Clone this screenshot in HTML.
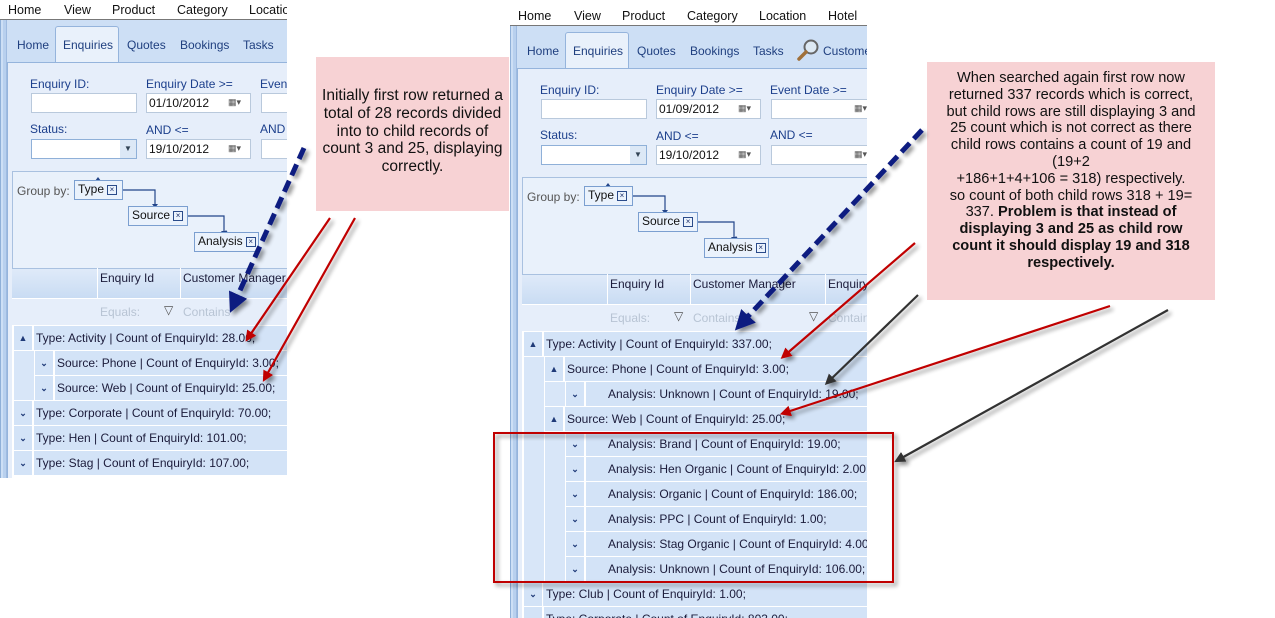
<!DOCTYPE html>
<html><head><meta charset="utf-8">
<style>
*{margin:0;padding:0;box-sizing:border-box}
body{width:1275px;height:618px;background:#fff;position:relative;overflow:hidden;font-family:"Liberation Sans",sans-serif;font-size:12px;color:#1b1b3a}
.p{position:absolute;overflow:hidden}
.a{position:absolute;white-space:nowrap}
.menu{font-size:12.5px;color:#111}
.blue{color:#1c3f8c}
.tab{font-size:12px;color:#1f3f7f}
.inp{position:absolute;height:20px;background:#fff;border:1px solid #b9c9dc}
.cal{position:absolute;right:4px;top:3px;width:18px;height:12px;font-size:9px;color:#555}
.gb{position:absolute;height:20px;background:#eaf2fc;border:1px solid #7b9fd0;padding:1px 3px;font-size:12px;color:#111;white-space:nowrap}
.x{display:inline-block;width:10px;height:10px;border:1px solid #2a4b8a;font-size:8px;line-height:8px;text-align:center;margin-left:3px;vertical-align:1px;color:#1a2f6a}
.row{position:absolute;height:24px;background:#d3e3f7;line-height:24px;color:#1b1b3a;white-space:nowrap}
.btn{position:absolute;height:24px;width:19px;background:#d3e3f7;border-right:1px solid #fff;text-align:center;font-size:9px;color:#1f3a78;font-weight:bold;line-height:24px}
.ind{position:absolute;height:24px;background:#d8e6f8}
.call{position:absolute;background:#f7d2d4;text-align:center;color:#111;white-space:nowrap}
</style></head><body>

<!-- LEFT PANEL -->
<div class="p" style="left:0;top:0;width:287px;height:478px">
  <div class="a menu" style="left:8px;top:3px">Home</div>
  <div class="a menu" style="left:64px;top:3px">View</div>
  <div class="a menu" style="left:112px;top:3px">Product</div>
  <div class="a menu" style="left:177px;top:3px">Category</div>
  <div class="a menu" style="left:249px;top:3px">Location</div>
  <div class="a" style="left:0;top:19px;width:287px;height:1px;background:#777"></div>
  <div class="a" style="left:0;top:20px;width:287px;height:458px;background:#cddff5;border-left:1px solid #8fb0d8"></div>
  <div class="a" style="left:3px;top:20px;width:4px;height:458px;background:#b8d0ee;border-right:1px solid #9fbbe0"></div>
  <div class="a" style="left:55px;top:26px;width:64px;height:37px;background:#e9f1fb;border:1px solid #95b4dc;border-bottom:none;border-radius:3px 3px 0 0"></div>
  <div class="a tab" style="left:17px;top:38px">Home</div>
  <div class="a tab" style="left:63px;top:38px">Enquiries</div>
  <div class="a tab" style="left:127px;top:38px">Quotes</div>
  <div class="a tab" style="left:180px;top:38px">Bookings</div>
  <div class="a tab" style="left:243px;top:38px">Tasks</div>
  <div class="a" style="left:7px;top:62px;width:280px;height:416px;background:#e6eefa;border-left:1px solid #95b4dc;border-top:1px solid #95b4dc"></div>
  <div class="a blue" style="left:30px;top:77px">Enquiry ID:</div>
  <div class="a blue" style="left:146px;top:77px">Enquiry Date &gt;=</div>
  <div class="a blue" style="left:260px;top:77px">Event</div>
  <div class="inp" style="left:31px;top:93px;width:106px"></div>
  <div class="inp" style="left:146px;top:93px;width:105px;padding:2px 2px;font-size:12px;color:#111">01/10/2012<span class="cal">▦▾</span></div>
  <div class="inp" style="left:261px;top:93px;width:40px"></div>
  <div class="a blue" style="left:30px;top:122px">Status:</div>
  <div class="a blue" style="left:146px;top:123px">AND &lt;=</div>
  <div class="a blue" style="left:260px;top:122px">AND</div>
  <div class="inp" style="left:31px;top:139px;width:106px;border-color:#8fb0d8"><span style="position:absolute;right:0;top:0;width:16px;height:18px;background:#dce8f6;font-size:8px;text-align:center;line-height:18px;color:#345">▼</span></div>
  <div class="inp" style="left:146px;top:139px;width:105px;padding:2px 2px;font-size:12px;color:#111">19/10/2012<span class="cal">▦▾</span></div>
  <div class="inp" style="left:261px;top:139px;width:40px"></div>
  <div class="a" style="left:12px;top:171px;width:280px;height:98px;background:#e9f1fb;border:1px solid #a9c1e0"></div>
  <div class="a" style="left:17px;top:184px;color:#555">Group by:</div>
  <svg class="a" style="left:0;top:0" width="287" height="270"><g stroke="#23458a" fill="none" stroke-width="1.2"><path d="M122 190 H155 V204"/><path d="M187 216 H224 V231"/></g><g fill="#23458a"><path d="M152 204 h6 l-3 4z"/><path d="M221 231 h6 l-3 4z"/><path d="M95 181 l3 -4 l3 4z"/><path d="M152 208 l3 -4 l3 4z"/><path d="M223 234 l3 -4 l3 4z"/></g></svg>
  <div class="gb" style="left:74px;top:180px;width:49px">Type<span class="x">×</span></div>
  <div class="gb" style="left:128px;top:206px;width:60px">Source<span class="x">×</span></div>
  <div class="gb" style="left:194px;top:232px;width:65px">Analysis<span class="x">×</span></div>
  <div class="a" style="left:12px;top:268px;width:280px;height:30px;background:linear-gradient(#dfeaf9,#c9dcf3);border-top:1px solid #a9c1e0"></div>
  <div class="a" style="left:97px;top:268px;width:1px;height:57px;background:#fff"></div>
  <div class="a" style="left:180px;top:268px;width:1px;height:57px;background:#fff"></div>
  <div class="a" style="left:100px;top:271px">Enquiry Id</div>
  <div class="a" style="left:183px;top:271px">Customer Manager</div>
  <div class="a" style="left:12px;top:298px;width:280px;height:27px;background:#e6eefa;border-top:1px solid #fff"></div>
  <div class="a" style="left:100px;top:305px;color:#b8c4d4">Equals:</div>
  <div class="a" style="left:164px;top:303px;color:#555">▽</div>
  <div class="a" style="left:183px;top:305px;color:#b8c4d4">Contains</div>
  <div class="a" style="left:12px;top:325px;width:280px;height:153px;background:#fff"></div>
  <div class="btn" style="left:14px;top:326px">▲</div><div class="row" style="left:34px;top:326px;width:260px;padding-left:2px">Type: Activity | Count of EnquiryId: 28.00;</div>
  <div class="ind" style="left:14px;top:351px;width:20px;height:49px"></div>
  <div class="btn" style="left:35px;top:351px">⌄</div><div class="row" style="left:55px;top:351px;width:240px;padding-left:2px">Source: Phone | Count of EnquiryId: 3.00;</div>
  <div class="btn" style="left:35px;top:376px">⌄</div><div class="row" style="left:55px;top:376px;width:240px;padding-left:2px">Source: Web | Count of EnquiryId: 25.00;</div>
  <div class="btn" style="left:14px;top:401px">⌄</div><div class="row" style="left:34px;top:401px;width:260px;padding-left:2px">Type: Corporate | Count of EnquiryId: 70.00;</div>
  <div class="btn" style="left:14px;top:426px">⌄</div><div class="row" style="left:34px;top:426px;width:260px;padding-left:2px">Type: Hen | Count of EnquiryId: 101.00;</div>
  <div class="btn" style="left:14px;top:451px">⌄</div><div class="row" style="left:34px;top:451px;width:260px;padding-left:2px">Type: Stag | Count of EnquiryId: 107.00;</div>
</div>

<!-- RIGHT PANEL -->
<div class="p" style="left:510px;top:6px;width:357px;height:612px">
  <div class="a menu" style="left:8px;top:3px">Home</div>
  <div class="a menu" style="left:64px;top:3px">View</div>
  <div class="a menu" style="left:112px;top:3px">Product</div>
  <div class="a menu" style="left:177px;top:3px">Category</div>
  <div class="a menu" style="left:249px;top:3px">Location</div>
  <div class="a menu" style="left:318px;top:3px">Hotel</div>
  <div class="a" style="left:0;top:19px;width:357px;height:1px;background:#777"></div>
  <div class="a" style="left:0;top:20px;width:357px;height:592px;background:#cddff5;border-left:1px solid #8fb0d8"></div>
  <div class="a" style="left:3px;top:20px;width:4px;height:592px;background:#b8d0ee;border-right:1px solid #9fbbe0"></div>
  <div class="a" style="left:55px;top:26px;width:64px;height:37px;background:#e9f1fb;border:1px solid #95b4dc;border-bottom:none;border-radius:3px 3px 0 0"></div>
  <div class="a tab" style="left:17px;top:38px">Home</div>
  <div class="a tab" style="left:63px;top:38px">Enquiries</div>
  <div class="a tab" style="left:127px;top:38px">Quotes</div>
  <div class="a tab" style="left:180px;top:38px">Bookings</div>
  <div class="a tab" style="left:243px;top:38px">Tasks</div>
  <svg class="a" style="left:286px;top:32px" width="26" height="24"><circle cx="15" cy="9" r="6.5" fill="#dde9f4" stroke="#666" stroke-width="2"/><path d="M10 14 L3 21" stroke="#a0703a" stroke-width="3.5" stroke-linecap="round"/></svg>
  <div class="a tab" style="left:313px;top:38px">Customer</div>
  <div class="a" style="left:7px;top:62px;width:350px;height:550px;background:#e6eefa;border-left:1px solid #95b4dc;border-top:1px solid #95b4dc"></div>
  <div class="a blue" style="left:30px;top:77px">Enquiry ID:</div>
  <div class="a blue" style="left:146px;top:77px">Enquiry Date &gt;=</div>
  <div class="a blue" style="left:260px;top:77px">Event Date &gt;=</div>
  <div class="inp" style="left:31px;top:93px;width:106px"></div>
  <div class="inp" style="left:146px;top:93px;width:105px;padding:2px 2px;font-size:12px;color:#111">01/09/2012<span class="cal">▦▾</span></div>
  <div class="inp" style="left:261px;top:93px;width:100px"><span class="cal" style="right:-2px">▦▾</span></div>
  <div class="a blue" style="left:30px;top:122px">Status:</div>
  <div class="a blue" style="left:146px;top:123px">AND &lt;=</div>
  <div class="a blue" style="left:260px;top:122px">AND &lt;=</div>
  <div class="inp" style="left:31px;top:139px;width:106px;border-color:#8fb0d8"><span style="position:absolute;right:0;top:0;width:16px;height:18px;background:#dce8f6;font-size:8px;text-align:center;line-height:18px;color:#345">▼</span></div>
  <div class="inp" style="left:146px;top:139px;width:105px;padding:2px 2px;font-size:12px;color:#111">19/10/2012<span class="cal">▦▾</span></div>
  <div class="inp" style="left:261px;top:139px;width:100px"><span class="cal" style="right:-2px">▦▾</span></div>
  <div class="a" style="left:12px;top:171px;width:350px;height:98px;background:#e9f1fb;border:1px solid #a9c1e0"></div>
  <div class="a" style="left:17px;top:184px;color:#555">Group by:</div>
  <svg class="a" style="left:0;top:0" width="357" height="270"><g stroke="#23458a" fill="none" stroke-width="1.2"><path d="M122 190 H155 V204"/><path d="M187 216 H224 V231"/></g><g fill="#23458a"><path d="M152 204 h6 l-3 4z"/><path d="M221 231 h6 l-3 4z"/><path d="M95 181 l3 -4 l3 4z"/><path d="M152 208 l3 -4 l3 4z"/><path d="M223 234 l3 -4 l3 4z"/></g></svg>
  <div class="gb" style="left:74px;top:180px;width:49px">Type<span class="x">×</span></div>
  <div class="gb" style="left:128px;top:206px;width:60px">Source<span class="x">×</span></div>
  <div class="gb" style="left:194px;top:232px;width:65px">Analysis<span class="x">×</span></div>
  <div class="a" style="left:12px;top:268px;width:350px;height:30px;background:linear-gradient(#dfeaf9,#c9dcf3);border-top:1px solid #a9c1e0"></div>
  <div class="a" style="left:97px;top:268px;width:1px;height:57px;background:#fff"></div>
  <div class="a" style="left:180px;top:268px;width:1px;height:57px;background:#fff"></div>
  <div class="a" style="left:315px;top:268px;width:1px;height:57px;background:#fff"></div>
  <div class="a" style="left:100px;top:271px">Enquiry Id</div>
  <div class="a" style="left:183px;top:271px">Customer Manager</div>
  <div class="a" style="left:318px;top:271px">Enquiry</div>
  <div class="a" style="left:12px;top:298px;width:350px;height:27px;background:#e6eefa;border-top:1px solid #fff"></div>
  <div class="a" style="left:100px;top:305px;color:#b8c4d4">Equals:</div>
  <div class="a" style="left:164px;top:303px;color:#555">▽</div>
  <div class="a" style="left:183px;top:305px;color:#b8c4d4">Contains</div>
  <div class="a" style="left:299px;top:303px;color:#555">▽</div>
  <div class="a" style="left:318px;top:305px;color:#b8c4d4">Contains</div>
  <div class="a" style="left:12px;top:325px;width:350px;height:290px;background:#fff"></div>
  <div class="btn" style="left:14px;top:326px">▲</div><div class="row" style="left:34px;top:326px;width:330px;padding-left:2px">Type: Activity | Count of EnquiryId: 337.00;</div>
  <div class="ind" style="left:14px;top:351px;width:20px;height:249px"></div>
  <div class="btn" style="left:35px;top:351px">▲</div><div class="row" style="left:55px;top:351px;width:310px;padding-left:2px">Source: Phone | Count of EnquiryId: 3.00;</div>
  <div class="ind" style="left:35px;top:376px;width:20px;height:24px"></div>
  <div class="btn" style="left:56px;top:376px">⌄</div><div class="row" style="left:76px;top:376px;width:290px;padding-left:22px">Analysis: Unknown | Count of EnquiryId: 19.00;</div>
  <div class="btn" style="left:35px;top:401px">▲</div><div class="row" style="left:55px;top:401px;width:310px;padding-left:2px">Source: Web | Count of EnquiryId: 25.00;</div>
  <div class="ind" style="left:35px;top:426px;width:20px;height:149px"></div>
  <div class="btn" style="left:56px;top:426px">⌄</div><div class="row" style="left:76px;top:426px;width:290px;padding-left:22px">Analysis: Brand | Count of EnquiryId: 19.00;</div>
  <div class="btn" style="left:56px;top:451px">⌄</div><div class="row" style="left:76px;top:451px;width:290px;padding-left:22px">Analysis: Hen Organic | Count of EnquiryId: 2.00;</div>
  <div class="btn" style="left:56px;top:476px">⌄</div><div class="row" style="left:76px;top:476px;width:290px;padding-left:22px">Analysis: Organic | Count of EnquiryId: 186.00;</div>
  <div class="btn" style="left:56px;top:501px">⌄</div><div class="row" style="left:76px;top:501px;width:290px;padding-left:22px">Analysis: PPC | Count of EnquiryId: 1.00;</div>
  <div class="btn" style="left:56px;top:526px">⌄</div><div class="row" style="left:76px;top:526px;width:290px;padding-left:22px">Analysis: Stag Organic | Count of EnquiryId: 4.00;</div>
  <div class="btn" style="left:56px;top:551px">⌄</div><div class="row" style="left:76px;top:551px;width:290px;padding-left:22px">Analysis: Unknown | Count of EnquiryId: 106.00;</div>
  <div class="btn" style="left:14px;top:576px">⌄</div><div class="row" style="left:34px;top:576px;width:330px;padding-left:2px">Type: Club | Count of EnquiryId: 1.00;</div>
  <div class="btn" style="left:14px;top:601px">⌄</div><div class="row" style="left:34px;top:601px;width:330px;padding-left:2px">Type: Corporate | Count of EnquiryId: 803.00;</div>
</div>

<!-- Callouts -->
<div class="call" style="left:316px;top:57px;width:193px;height:154px;padding-top:30px;line-height:17.8px;font-size:15.5px">Initially first row returned a<br>total of 28 records divided<br>into to child records of<br>count 3 and 25, displaying<br>correctly.</div>
<div class="call" style="left:927px;top:62px;width:288px;height:238px;padding-top:8px;line-height:16.8px;font-size:14.6px">When searched again first row now<br>returned 337 records which is correct,<br>but child rows are still displaying 3 and<br>25 count which is not correct as there<br>child rows contains a count of 19 and<br>(19+2<br>+186+1+4+106 = 318) respectively.<br>so count of both child rows 318 + 19=<br>337. <b>Problem is that instead of</b><br><b>displaying 3 and 25 as child row</b><br><b>count it should display 19 and 318</b><br><b>respectively.</b></div>

<!-- Overlay: red box and arrows -->
<svg class="a" style="left:0;top:0" width="1275" height="618">
<defs>
<filter id="sh" x="-20%" y="-20%" width="140%" height="140%"><feGaussianBlur in="SourceAlpha" stdDeviation="2"/><feOffset dx="3" dy="3"/><feComponentTransfer><feFuncA type="linear" slope="0.45"/></feComponentTransfer><feMerge><feMergeNode/><feMergeNode in="SourceGraphic"/></feMerge></filter>
<marker id="mb" markerWidth="4" markerHeight="4" refX="2.5" refY="2" orient="auto"><path d="M0 0 L4 2 L0 4z" fill="#0e1d80"/></marker>
<marker id="mr" markerWidth="5" markerHeight="5" refX="3" refY="2.5" orient="auto"><path d="M0 0 L5 2.5 L0 5z" fill="#c00000"/></marker>
<marker id="mg" markerWidth="5" markerHeight="5" refX="3" refY="2.5" orient="auto"><path d="M0 0 L5 2.5 L0 5z" fill="#333"/></marker>
</defs>
<g filter="url(#sh)">
<rect x="494" y="433" width="399" height="149" fill="none" stroke="#c00000" stroke-width="2"/>
<line x1="304" y1="148" x2="233" y2="306" stroke="#0e1d80" stroke-width="5" stroke-dasharray="12,6" marker-end="url(#mb)"/>
<line x1="330" y1="218" x2="248" y2="338" stroke="#c00000" stroke-width="2.2" marker-end="url(#mr)"/>
<line x1="355" y1="218" x2="265" y2="378" stroke="#c00000" stroke-width="2.2" marker-end="url(#mr)"/>
<line x1="922" y1="130" x2="740" y2="325" stroke="#0e1d80" stroke-width="5" stroke-dasharray="12,6" marker-end="url(#mb)"/>
<line x1="915" y1="243" x2="784" y2="356" stroke="#c00000" stroke-width="2.2" marker-end="url(#mr)"/>
<line x1="918" y1="295" x2="828" y2="382" stroke="#333" stroke-width="2.2" marker-end="url(#mg)"/>
<line x1="1110" y1="306" x2="784" y2="413" stroke="#c00000" stroke-width="2.2" marker-end="url(#mr)"/>
<line x1="1168" y1="310" x2="898" y2="460" stroke="#333" stroke-width="2.2" marker-end="url(#mg)"/>
</g>
</svg>
</body></html>
